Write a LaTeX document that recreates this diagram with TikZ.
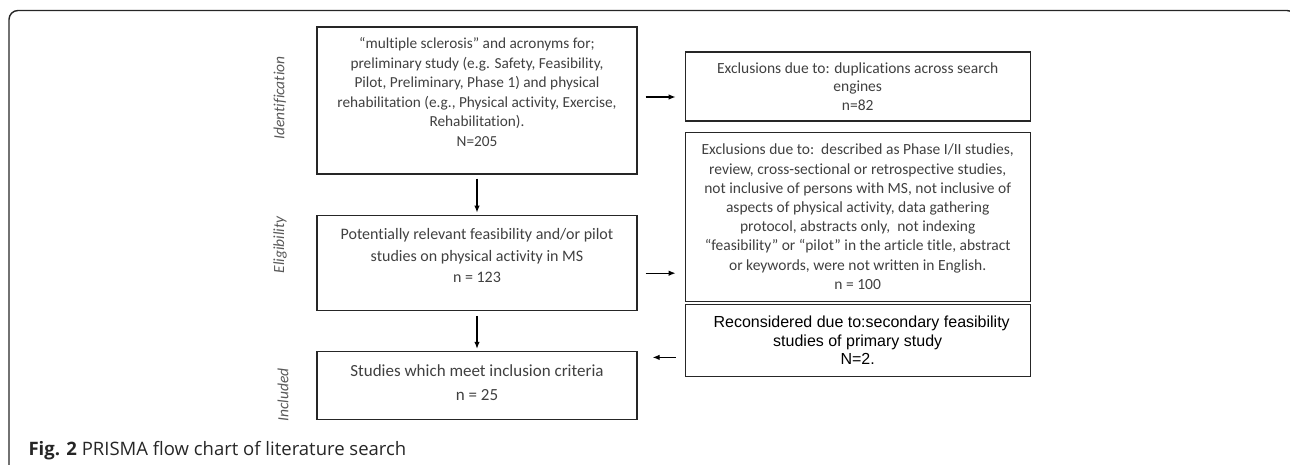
\documentclass[tikz,border=0pt]{standalone}
\usepackage{fontspec}
\setmainfont{Carlito}[Ligatures={TeX,CommonOff}]
\newfontfamily\arialfont{Liberation Sans}
\newfontfamily\capfont{Open Sans}
\usetikzlibrary{arrows.meta,positioning}
\definecolor{boxtext}{HTML}{404040}
\definecolor{phasegray}{HTML}{595959}
\tikzset{%
	>={Latex[length=7pt,width=5.5pt]},
	stage/.style={rectangle, draw=black!85, line width=1.2pt, text=boxtext, align=center, inner sep=0pt},
	mainbox/.style={stage, minimum width=320pt},
	sidebox/.style={stage, minimum width=345pt},
	phaselabel/.style={rotate=90, text=phasegray, font=\fontsize{15.5}{17}\selectfont\itshape},
	flow/.style={->, line width=1.2pt}
}

\begin{document}
\begin{tikzpicture}[x=1pt,y=1pt,node distance=40pt]
\useasboundingbox (0,0) rectangle (1290,-465);
\draw[line width=1.4pt, black!85, rounded corners=9pt] (9,-480) -- (9,-10.5) -- (1296,-10.5) -- (1296,-480);

\node (search) [mainbox, minimum height=147pt, font=\fontsize{15.3}{19.5}\selectfont] at (477,-100.5) {``multiple sclerosis'' and acronyms for;\\ preliminary study (e.g. Safety, Feasibility,\\ Pilot, Preliminary, Phase 1) and physical\\ rehabilitation (e.g., Physical activity, Exercise,\\ Rehabilitation).\\ N=205\\[-2pt]~};
\node (relevant) [mainbox, minimum height=95pt, below=of search, font=\fontsize{16}{21.5}\selectfont] {Potentially relevant feasibility and/or pilot\\ studies on physical activity in MS\\ n = 123\\[-7.5pt]~};
\node (included) [mainbox, minimum height=68pt, below=of relevant, font=\fontsize{17}{24}\selectfont] {Studies which meet inclusion criteria\\ n = 25\\[-18pt]~};

\node (dups) [sidebox, minimum height=69pt, right=47pt of search.north east, anchor=north west, yshift=-25pt, font=\fontsize{15.5}{18.5}\selectfont] {Exclusions due to: duplications across search\\ engines\\ n=82};
\node (excl) [sidebox, minimum height=169pt, below=10pt of dups, font=\fontsize{15.5}{19.2}\selectfont] {Exclusions due to:\ \ described as Phase I/II studies,\\ review, cross-sectional or retrospective studies,\\ not inclusive of persons with MS, not inclusive of\\ aspects of physical activity, data gathering\\ protocol, abstracts only,\ \ not indexing\\ ``feasibility'' or ``pilot'' in the article title, abstract\\ or keywords, were not written in English.\\ n = 100};
\node (recons) [sidebox, minimum height=72pt, below=2pt of excl, text=black, font=\arialfont\fontsize{16}{18.5}\selectfont] {\hspace*{8pt}Reconsidered due to:secondary feasibility\\ studies of primary study\\ N=2.};

\node (ident) [phaselabel] at (280,-98) {Identification};
\node (elig) [phaselabel] at (280,-245) {Eligibility};
\node (incl) [phaselabel] at (283,-395) {Included};

\node (caption) [anchor=base west, text=black!85, font=\capfont\fontsize{18.5}{22}\selectfont] at (25,-455) {\textbf{Fig. 2} PRISMA flow chart of literature search};

\path (search) edge[flow, shorten <=4pt, shorten >=2pt] (relevant);
\path (relevant) edge[flow, shorten <=5pt, shorten >=2pt] (included);
\draw[flow, shorten <=8pt, shorten >=9pt] ([yshift=3.5pt]search.east) -- ([yshift=3.5pt]search.east -| dups.west);
\draw[flow, shorten <=8pt, shorten >=9pt] ([yshift=-10.5pt]relevant.east) -- ([yshift=-10.5pt]relevant.east -| excl.west);
\draw[flow, shorten <=9pt, shorten >=15pt] ([yshift=-17pt]recons.west) -- ([yshift=-17pt]recons.west -| included.east);

\end{tikzpicture}
\end{document}
